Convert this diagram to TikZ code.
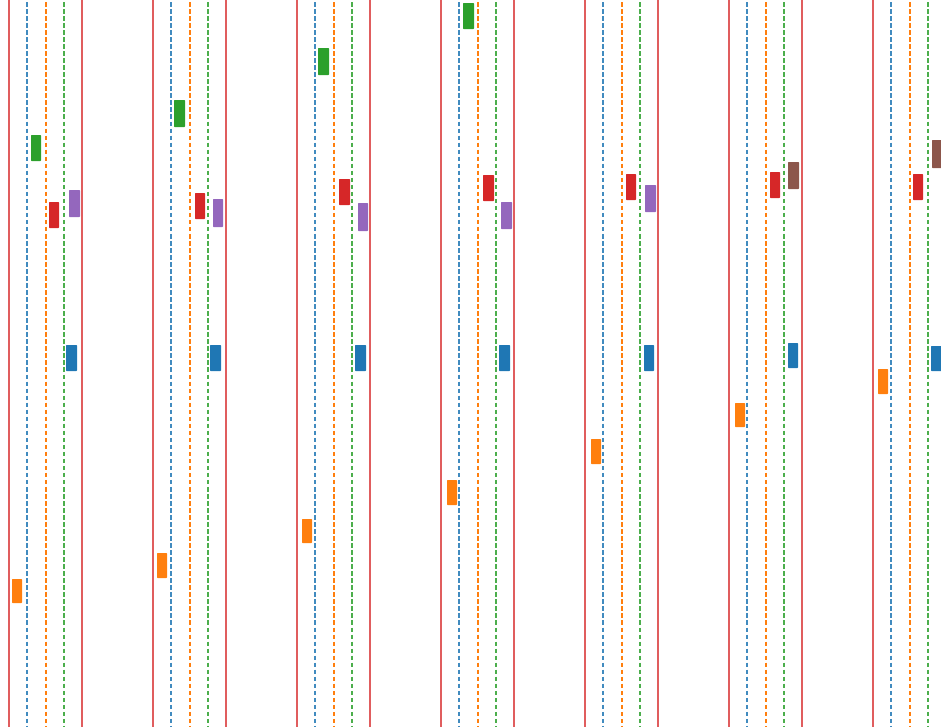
\documentclass[tikz,border=0pt]{standalone}
\usepackage{xcolor}
\usepackage{tikz}
\definecolor{tabblue}{HTML}{1F77B4}
\definecolor{taborange}{HTML}{FF7F0E}
\definecolor{tabgreen}{HTML}{2CA02C}
\definecolor{tabred}{HTML}{D62728}
\definecolor{tabpurple}{HTML}{9467BD}
\definecolor{tabbrown}{HTML}{8C564B}
\tikzset{
  roadedge/.style={
    draw=tabred!75,
    line width=1.1pt
  },
  laneline/.style={
    line width=0.9pt,
    dash pattern=on 2.6pt off 1.4pt
  },
  car/.style={
    rounded corners=0.4pt
  }
}

\begin{document}
\begin{tikzpicture}[x=0.02cm,y=-0.02cm]
  \useasboundingbox (0,0) rectangle (941,727);
  \clip (0,0) rectangle (941,727);

  % road edges and lane markings, one panel per time step
  \foreach \k in {0,...,6} {
    \pgfmathsetmacro{\xl}{9+144*\k}
    \draw[roadedge] (\xl,-5) -- (\xl,732);
    \draw[roadedge] (\xl+73,-5) -- (\xl+73,732);
    \draw[laneline, draw=tabblue!85] (\xl+18,-5) -- (\xl+18,732);
    \draw[laneline, draw=taborange] (\xl+37,-5) -- (\xl+37,732);
    \draw[laneline, draw=tabgreen!85] (\xl+55,-5) -- (\xl+55,732);
  }

  % vehicles
  \foreach \xa/\ya/\xb/\yb/\col in {
    31/135/41/161/tabgreen, 49/202/59/228/tabred, 69/190/80/217/tabpurple,
    66/345/77/371/tabblue, 12/579/22/603/taborange,
    174/100/185/127/tabgreen, 195/193/205/219/tabred, 213/199/223/227/tabpurple,
    210/345/221/371/tabblue, 157/553/167/578/taborange,
    318/48/329/75/tabgreen, 339/179/350/205/tabred, 358/203/368/231/tabpurple,
    355/345/366/371/tabblue, 302/519/312/543/taborange,
    463/3/474/29/tabgreen, 483/175/494/201/tabred, 501/202/512/229/tabpurple,
    499/345/510/371/tabblue, 447/480/457/505/taborange,
    626/174/636/200/tabred, 645/185/656/212/tabpurple,
    644/345/654/371/tabblue, 591/439/601/464/taborange,
    770/172/780/198/tabred, 788/162/799/189/tabbrown,
    788/343/798/368/tabblue, 735/403/745/427/taborange,
    913/174/923/200/tabred, 932/140/943/168/tabbrown,
    931/346/942/371/tabblue, 878/369/888/394/taborange} {
    \fill[car, fill=\col] (\xa,\ya) rectangle (\xb,\yb);
  }
\end{tikzpicture}
\end{document}
